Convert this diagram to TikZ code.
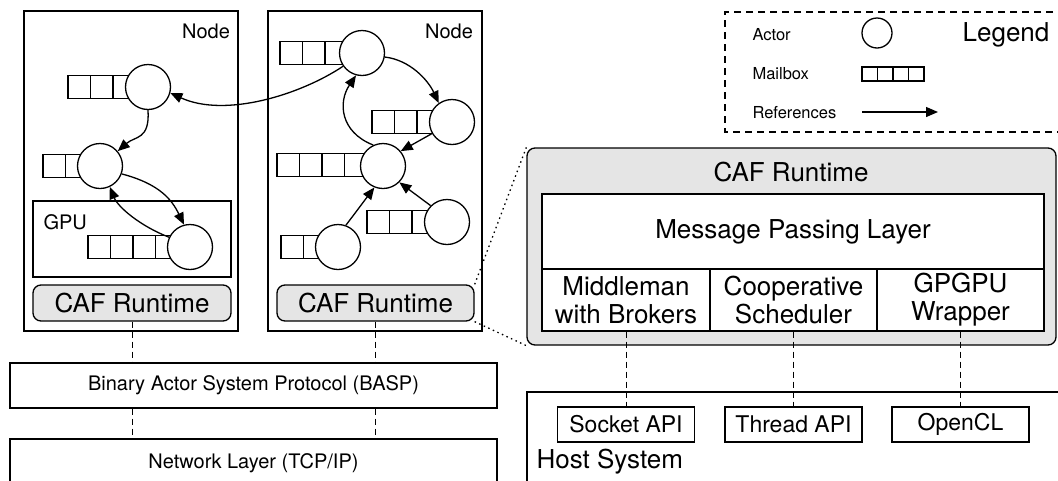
\documentclass[tikz,border=0pt]{standalone}
\usepackage{fontspec}
\setmainfont{TeX Gyre Heros}
\usetikzlibrary{arrows.meta}
\newcommand{\mailbox}[3]{\foreach \i in {1,...,#3}{\draw[cellst] ({#1+(\i-1)*22.5},{#2-11.5}) rectangle ++(22.5,23);}}
\begin{document}
\begin{tikzpicture}[x=1pt,y=-1pt,
  lw/.style={line width=1.3pt},
  box/.style={draw, lw, inner sep=0pt},
  rbox/.style={draw, lw, inner sep=0pt, rounded corners=8pt, fill=black!10},
  cellst/.style={draw, line width=1.2pt},
  actor/.style={circle, draw, lw, fill=white, minimum size=45pt, inner sep=0pt},
  ref/.style={lw, -{Triangle[length=12pt,width=10pt]}},
  dsh/.style={line width=1pt, dash pattern=on 6pt off 4pt},
  dot/.style={line width=1.3pt, dash pattern=on 1.5pt off 3.5pt},
  big/.style={font=\fontsize{26}{28}\selectfont},
  mid/.style={font=\fontsize{23}{25}\selectfont},
  med/.style={font=\fontsize{20}{22}\selectfont},
  small/.style={font=\fontsize{16.5}{18}\selectfont}]
\useasboundingbox (0,0) rectangle (1058,480);
\clip (0,0) rectangle (1058,480);

% ---------- Node boxes ----------
\node[box, minimum width=214pt, minimum height=320pt] (n1) at (131,171) {};
\node[box, minimum width=214pt, minimum height=320pt] (n2) at (375,171) {};
\node[med] (n1lbl) at (206,31) {Node};
\node[med] (n2lbl) at (449,31) {Node};
\node[box, minimum width=198pt, minimum height=76pt] (gpu) at (132,239) {};
\node[med, anchor=west] (gpulbl) at (40,222) {GPU};
\node[rbox, big, minimum width=198pt, minimum height=36pt] (caf1) at (132,303) {CAF Runtime};
\node[rbox, big, minimum width=197pt, minimum height=36pt] (caf2) at (375.5,303) {CAF Runtime};

% ---------- mailboxes ----------
\mailbox{68}{87}{3}
\mailbox{43}{166}{2}
\mailbox{88}{247}{4}
\mailbox{280}{53}{3}
\mailbox{372}{122}{3}
\mailbox{277}{165}{4}
\mailbox{367}{222}{3}
\mailbox{281}{247}{2}

% ---------- actors ----------
\node[actor] (A1) at (148,87) {};
\node[actor] (A2) at (100,166) {};
\node[actor] (A3) at (190,247) {};
\node[actor] (B1) at (362,53) {};
\node[actor] (B2) at (452,122) {};
\node[actor] (B3) at (383,166) {};
\node[actor] (B4) at (447,222) {};
\node[actor] (B5) at (338,247) {};

% ---------- references ----------
\draw[ref] (B1.215) .. controls (300,95) and (225,118) .. (A1.-15);
\draw[ref] (A1.-90) .. controls (150,140) and (135,136) .. (A2.40);
\draw[ref] (A2.-20) .. controls (160,184) and (172,200) .. (A3.105);
\draw[ref] (A3.155) .. controls (140,226) and (118,207) .. (A2.-65);
\draw[ref] (B1.-10) .. controls (410,60) and (428,80) .. (B2.125);
\draw[ref] (B2.210) -- (B3.40);
\draw[ref] (B3.115) .. controls (340,132) and (338,102) .. (B1.-105);
\draw[ref] (B5.70) -- (B3.-112);
\draw[ref] (B4.135) -- (B3.-45);

% ---------- protocol layers ----------
\node[box, med, minimum width=487pt, minimum height=45pt] (basp) at (253.5,385.5) {Binary Actor System Protocol (BASP)};
\node[box, minimum width=487pt, minimum height=52pt] (net) at (253.5,465) {};
\node[med] (netlbl) at (253.5,463) {Network Layer (TCP/IP)};
\draw[dsh] (caf1.south) -- (basp.north -| caf1.south);
\draw[dsh] (caf2.south) -- (basp.north -| caf2.south);
\draw[dsh] (basp.south -| caf1.south) -- (net.north -| caf1.south);
\draw[dsh] (basp.south -| caf2.south) -- (net.north -| caf2.south);

% ---------- legend ----------
\draw[lw, dash pattern=on 7pt off 5pt] (1065,12) -- (725,12) -- (725,132) -- (1065,132);
\node[small, anchor=west] (lactor) at (749,35) {Actor};
\node[small, anchor=west] (lmail) at (749,74) {Mailbox};
\node[small, anchor=west] (lref) at (749,113) {References};
\node[circle, draw, lw, minimum size=30pt, inner sep=0pt] (lcirc) at (877,33) {};
\foreach \i in {0,1,2,3}{\draw[line width=1.2pt] ({862+15.5*\i},67) rectangle ++(15.5,14);}
\coordinate (la) at (862,112);
\coordinate (lb) at (938,112);
\draw[ref] (la) -- (lb);
\node[big] (leg) at (1006,35) {Legend};

% ---------- CAF runtime detail ----------
\node[rbox, minimum width=529pt, minimum height=197pt] (caf) at (791.5,246.5) {};
\node[big] (caftitle) at (791,172) {CAF Runtime};
\node[box, big, fill=white, minimum width=502pt, minimum height=75pt] (mpl) at (793,231.5) {Message Passing Layer};
\node[box, big, fill=white, align=center, minimum width=168pt, minimum height=62pt] (mm) at (626,300) {Middleman\\with Brokers};
\node[box, big, fill=white, align=center, minimum width=167pt, minimum height=62pt] (cs) at (793.5,300) {Cooperative\\Scheduler};
\node[box, big, fill=white, align=center, minimum width=167pt, minimum height=62pt] (gw) at (960.5,300) {GPGPU\\Wrapper};
\draw[dot] (caf2.north east) -- (caf.north west);
\draw[dot] (caf2.south east) -- (caf.south west);

% ---------- host system ----------
\node[box, minimum width=540pt, minimum height=100pt] (host) at (797,442) {};
\node[big, anchor=west] (hostlbl) at (533,462) {Host System};
\node[box, mid, minimum width=137pt, minimum height=35pt] (sock) at (626,424.5) {Socket API};
\node[box, mid, minimum width=137pt, minimum height=35pt] (thr) at (793.5,424.5) {Thread API};
\node[box, mid, minimum width=137pt, minimum height=35pt] (ocl) at (960.5,424.5) {OpenCL};
\draw[dsh] (mm.south) -- (sock.north);
\draw[dsh] (cs.south) -- (thr.north);
\draw[dsh] (gw.south) -- (ocl.north);
\end{tikzpicture}
\end{document}
